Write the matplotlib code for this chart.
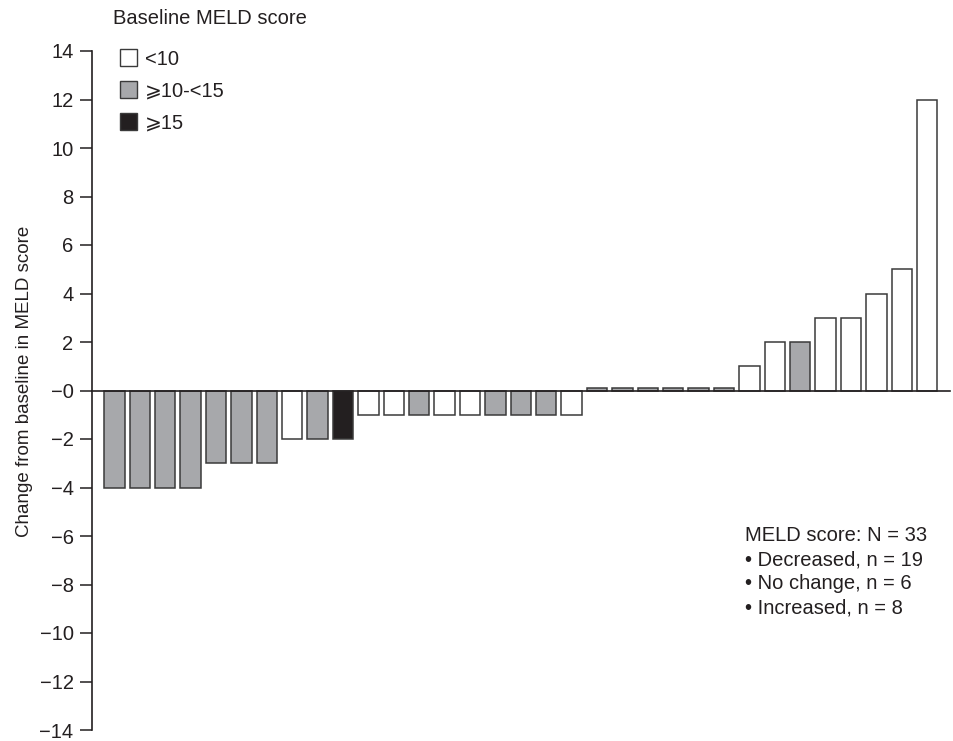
import matplotlib
matplotlib.use("Agg")
import matplotlib.pyplot as plt
from matplotlib.patches import Rectangle

plt.rcParams['font.family'] = ['Liberation Sans', 'DejaVu Sans']
plt.rcParams['axes.unicode_minus'] = True

# Data: change from baseline in MELD score per patient (sorted)
changes = [-4, -4, -4, -4, -3, -3, -3, -2, -2, -2,
           -1, -1, -1, -1, -1, -1, -1, -1, -1,
           0.1, 0.1, 0.1, 0.1, 0.1, 0.1,
           1, 2, 2, 3, 3, 4, 5, 12]
# baseline category: 'low' (<10), 'mid' (>=10-<15), 'high' (>=15)
groups = ['mid', 'mid', 'mid', 'mid', 'mid', 'mid', 'mid', 'low', 'mid', 'high',
          'low', 'low', 'mid', 'low', 'low', 'mid', 'mid', 'mid', 'low',
          'mid', 'mid', 'mid', 'mid', 'mid', 'mid',
          'low', 'low', 'mid', 'low', 'low', 'low', 'low', 'low']
legend_keys = ['low', 'mid', 'high']
legend_labels = ['<10', '⩾10-<15', '⩾15']
yticks = list(range(-14, 15, 2))
ann = ['MELD score: N = 33', '• Decreased, n = 19', '• No change, n = 6', '• Increased, n = 8']

colors = {'low': '#ffffff', 'mid': '#a7a8ab', 'high': '#231f20'}
TXT = '#231f20'
FS = 14.5
W, H = 954, 741
TOP_PX, BOT_PX = 51, 730

fig = plt.figure(figsize=(W / 100, H / 100), dpi=100)
ax = fig.add_axes([92 / W, (H - BOT_PX) / H, (950 - 92) / W, (BOT_PX - TOP_PX) / H])

x = list(range(len(changes)))
ax.bar(x, changes, width=0.8, color=[colors[g] for g in groups],
       edgecolor='#3a3a3a', linewidth=1.1, zorder=2)

ax.set_xlim(-0.88, 32.9)
ax.set_ylim(-14, 14)
ax.set_yticks(yticks)
ax.set_yticklabels(['−0' if t == 0 else ('−%d' % -t if t < 0 else str(t)) for t in yticks],
                   fontsize=FS, color=TXT)
ax.tick_params(axis='y', direction='out', length=9, width=1.1, color=TXT, pad=4.3)
ax.set_xticks([])

for s in ['top', 'right']:
    ax.spines[s].set_visible(False)
ax.spines['left'].set_linewidth(1.2)
ax.spines['left'].set_color(TXT)
ax.spines['bottom'].set_position(('data', 0))
ax.spines['bottom'].set_linewidth(1.2)
ax.spines['bottom'].set_color(TXT)
ax.spines['bottom'].set_zorder(3)

ax.set_ylabel('Change from baseline in MELD score', fontsize=13.5, color=TXT)
ax.yaxis.set_label_coords((33 - 92) / (950 - 92), (BOT_PX - 381) / (BOT_PX - TOP_PX))

def fy(py):
    return 1 - py / H

fig.text(113 / W, fy(24), 'Baseline MELD score', fontsize=FS, color=TXT,
         va='baseline', ha='left')

# legend drawn by hand
sq_tops = [49, 81, 113]
baselines = [65, 97, 129]
for k, lab, top, bl in zip(legend_keys, legend_labels, sq_tops, baselines):
    fig.patches.append(Rectangle((120 / W, fy(top + 17)), 17 / W, 17 / H,
                                 transform=fig.transFigure, facecolor=colors[k],
                                 edgecolor='#3a3a3a', linewidth=1.0))
    fig.text(145 / W, fy(bl), lab, fontsize=FS, color=TXT, va='baseline', ha='left')

for i, line in enumerate(ann):
    fig.text(745 / W, fy(541 + i * 24), line, fontsize=FS, color=TXT,
             va='baseline', ha='left')

fig.savefig('out.png', dpi=100)
